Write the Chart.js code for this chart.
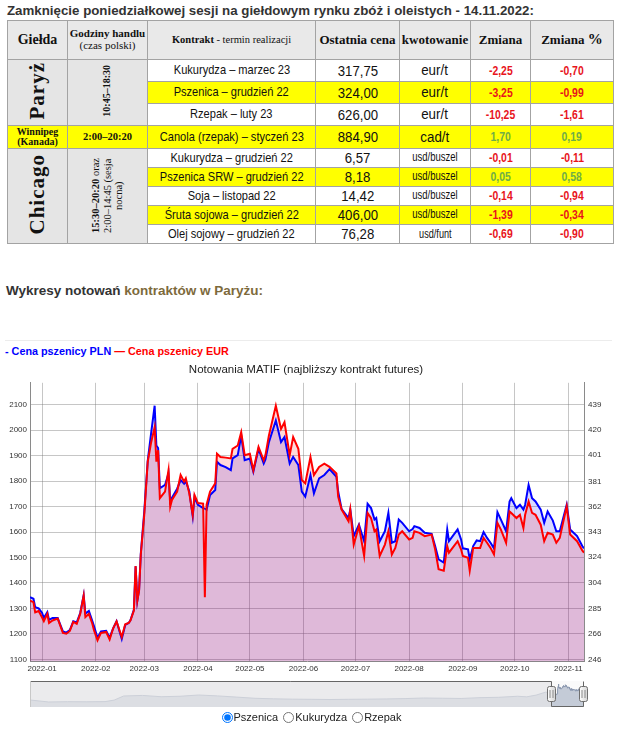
<!DOCTYPE html>
<html><head><meta charset="utf-8">
<script src="https://cdn.jsdelivr.net/npm/chart.js@4.4.1/dist/chart.umd.min.js"></script>
<style>
html,body{margin:0;padding:0;background:#fff;width:624px;height:735px;overflow:hidden;}
body{position:relative;font-family:"Liberation Sans",Arial,sans-serif;}
#hdr{position:absolute;left:7px;top:3px;font-size:13.3px;font-weight:bold;color:#333;white-space:nowrap;line-height:16px;}
table{position:absolute;left:7px;top:20px;border-collapse:collapse;table-layout:fixed;width:606px;}
td,th{border:1px solid #a3a3a3;padding:0;text-align:center;vertical-align:middle;overflow:hidden;white-space:nowrap;line-height:1.05;}
th{background:#e9e9e9;font-family:"Liberation Serif","Times New Roman",serif;font-weight:bold;color:#111;}
.gie{background:#e5e5e5;font-family:"Liberation Serif","Times New Roman",serif;font-weight:bold;color:#111;}
.hrs{font-family:"Liberation Serif","Times New Roman",serif;color:#111;background:#e5e5e5;}
.vt{writing-mode:vertical-rl;transform:rotate(180deg);display:inline-block;}
td span.s{display:inline-block;margin:0 -40px;transform-origin:50% 50%;}
.k{font-size:13.5px;color:#111;} .k span.s{transform:scaleX(.82);}
.p{font-size:15px;color:#111;} .p span.s{transform:scaleX(.88);}
.u{font-size:15.5px;color:#111;} .u span.s{transform:scaleX(.86);}
.u2{font-size:12.5px;color:#111;} .u2 span.s{transform:scaleX(.76);}
.c{font-size:13px;font-weight:bold;} .c span.s{transform:scaleX(.8);}
.r{color:#e8141c;} .g{color:#70ad47;}
.y td.k,.y td.p,.y td.u,.y td.u2,.y td.c{background:#ffff00;}
tr.all td{background:#ffff00;}
#wyk{position:absolute;left:6px;top:283px;font-size:13.5px;font-weight:bold;color:#333;white-space:nowrap;}
#wyk span{color:#7d6a3c;}
#sep{position:absolute;left:5px;top:340px;width:607px;height:1px;background:#ececec;}
#leg{position:absolute;left:5px;top:345px;font-size:10.8px;font-weight:bold;white-space:nowrap;}
#mainWrap{position:absolute;left:0;top:357px;width:612px;height:320px;}
#miniWrap{position:absolute;left:20px;top:674px;width:575px;height:38px;}
#radios{position:absolute;left:0;top:711px;width:620px;text-align:center;font-size:11px;color:#222;}
#radios label{margin:0 1px;}
#radios input{width:11px;height:11px;margin:0 1px 0 3px;vertical-align:-2px;}
</style></head>
<body>
<div id="hdr">Zamknięcie poniedziałkowej sesji na giełdowym rynku zbóż i oleistych - 14.11.2022:</div>
<table>
<colgroup><col style="width:60px"><col style="width:80px"><col style="width:168px"><col style="width:84px"><col style="width:71px"><col style="width:60px"><col style="width:83px"></colgroup>
<tr style="height:39px">
<th style="font-size:14px">Giełda</th>
<th style="font-size:11px">Godziny handlu<br><span style="font-weight:normal">(czas polski)</span></th>
<th style="font-size:10.5px">Kontrakt <span style="font-weight:normal">- termin realizacji</span></th>
<th style="font-size:13px">Ostatnia cena</th>
<th style="font-size:13px">kwotowanie</th>
<th style="font-size:13px">Zmiana</th>
<th style="font-size:13px">Zmiana <span style="font-size:15px">%</span></th>
</tr>
<tr style="height:22px">
<td rowspan="3" class="gie" style="font-size:21px;letter-spacing:1px"><div class="vt">Paryż</div></td>
<td rowspan="3" class="hrs" style="font-size:10px;font-weight:bold"><div class="vt">10:45–18:30</div></td>
<td class="k"><span class="s">Kukurydza – marzec 23</span></td><td class="p"><span class="s">317,75</span></td><td class="u"><span class="s">eur/t</span></td><td class="c r"><span class="s">-2,25</span></td><td class="c r"><span class="s">-0,70</span></td>
</tr>
<tr class="y" style="height:22px">
<td class="k"><span class="s">Pszenica – grudzień 22</span></td><td class="p"><span class="s">324,00</span></td><td class="u"><span class="s">eur/t</span></td><td class="c r"><span class="s">-3,25</span></td><td class="c r"><span class="s">-0,99</span></td>
</tr>
<tr style="height:22px">
<td class="k"><span class="s">Rzepak – luty 23</span></td><td class="p"><span class="s">626,00</span></td><td class="u"><span class="s">eur/t</span></td><td class="c r"><span class="s">-10,25</span></td><td class="c r"><span class="s">-1,61</span></td>
</tr>
<tr class="all" style="height:23px">
<td class="gie" style="font-size:10px">Winnipeg<br>(Kanada)</td>
<td class="hrs" style="font-size:10.5px;font-weight:bold">2:00–20:20</td>
<td class="k"><span class="s">Canola (rzepak) – styczeń 23</span></td><td class="p"><span class="s">884,90</span></td><td class="u"><span class="s">cad/t</span></td><td class="c g"><span class="s">1,70</span></td><td class="c g"><span class="s">0,19</span></td>
</tr>
<tr style="height:19px">
<td rowspan="5" class="gie" style="font-size:21px;letter-spacing:1px"><div class="vt">Chicago</div></td>
<td rowspan="5" class="hrs" style="font-size:10.5px"><div class="vt" style="text-align:center;line-height:1.1"><b>15:30–20:20</b> oraz<br>2:00–14:45 (sesja<br>nocna)</div></td>
<td class="k"><span class="s">Kukurydza – grudzień 22</span></td><td class="p"><span class="s">6,57</span></td><td class="u2"><span class="s">usd/buszel</span></td><td class="c r"><span class="s">-0,01</span></td><td class="c r"><span class="s">-0,11</span></td>
</tr>
<tr class="y" style="height:19px">
<td class="k"><span class="s">Pszenica SRW – grudzień 22</span></td><td class="p"><span class="s">8,18</span></td><td class="u2"><span class="s">usd/buszel</span></td><td class="c g"><span class="s">0,05</span></td><td class="c g"><span class="s">0,58</span></td>
</tr>
<tr style="height:19px">
<td class="k"><span class="s">Soja – listopad 22</span></td><td class="p"><span class="s">14,42</span></td><td class="u2"><span class="s">usd/buszel</span></td><td class="c r"><span class="s">-0,14</span></td><td class="c r"><span class="s">-0,94</span></td>
</tr>
<tr class="y" style="height:19px">
<td class="k"><span class="s">Śruta sojowa – grudzień 22</span></td><td class="p"><span class="s">406,00</span></td><td class="u2"><span class="s">usd/buszel</span></td><td class="c r"><span class="s">-1,39</span></td><td class="c r"><span class="s">-0,34</span></td>
</tr>
<tr style="height:19px">
<td class="k"><span class="s">Olej sojowy – grudzień 22</span></td><td class="p"><span class="s">76,28</span></td><td class="u2" style="font-size:12px"><span class="s">usd/funt</span></td><td class="c r"><span class="s">-0,69</span></td><td class="c r"><span class="s">-0,90</span></td>
</tr>
</table>
<div id="wyk">Wykresy notowań <span>kontraktów w Paryżu:</span></div>
<div id="sep"></div>
<div id="leg"></div>
<div id="mainWrap"><canvas id="main" width="612" height="320"></canvas></div>
<div id="miniWrap"><canvas id="mini" width="575" height="38"></canvas></div>
<div id="radios"><label><input type="radio" name="k" checked>Pszenica</label><label><input type="radio" name="k">Kukurydza</label><label><input type="radio" name="k">Rzepak</label></div>
<script>
// ---- data ----
const chartTitle = 'Notowania MATIF (najbliższy kontrakt futures)';
const seriesLabels = ['Cena pszenicy PLN', 'Cena pszenicy EUR'];
const dates = ['2021-12-25','2021-12-27','2021-12-28','2021-12-30','2022-01-01','2022-01-02','2022-01-04','2022-01-05','2022-01-07','2022-01-10',
'2022-01-13','2022-01-15','2022-01-17','2022-01-19','2022-01-21','2022-01-23','2022-01-25','2022-01-26','2022-01-28','2022-01-30',
'2022-01-31','2022-02-02','2022-02-04','2022-02-07','2022-02-09','2022-02-11','2022-02-13','2022-02-16','2022-02-18','2022-02-20',
'2022-02-21','2022-02-23','2022-02-24','2022-02-25','2022-02-26','2022-02-27','2022-03-01','2022-03-03','2022-03-05','2022-03-07',
'2022-03-08','2022-03-09','2022-03-10','2022-03-13','2022-03-15','2022-03-16','2022-03-17','2022-03-20','2022-03-22','2022-03-24',
'2022-03-25','2022-03-27','2022-03-29','2022-03-30','2022-04-01','2022-04-04','2022-04-05','2022-04-06','2022-04-08','2022-04-11',
'2022-04-12','2022-04-14','2022-04-17','2022-04-20','2022-04-21','2022-04-24','2022-04-26','2022-04-28','2022-05-01','2022-05-03',
'2022-05-06','2022-05-09','2022-05-10','2022-05-12','2022-05-16','2022-05-19','2022-05-21','2022-05-24','2022-05-26','2022-05-29',
'2022-05-31','2022-06-02','2022-06-05','2022-06-07','2022-06-10','2022-06-13','2022-06-16','2022-06-20','2022-06-21','2022-06-23',
'2022-06-27','2022-06-28','2022-06-30','2022-07-03','2022-07-06','2022-07-08','2022-07-10','2022-07-12','2022-07-13','2022-07-15',
'2022-07-18','2022-07-20','2022-07-22','2022-07-24','2022-07-26','2022-07-28','2022-08-01','2022-08-03','2022-08-04','2022-08-07',
'2022-08-10','2022-08-14','2022-08-16','2022-08-18','2022-08-21','2022-08-23','2022-08-24','2022-08-29','2022-08-31','2022-09-01',
'2022-09-04','2022-09-05','2022-09-07','2022-09-09','2022-09-11','2022-09-13','2022-09-15','2022-09-17','2022-09-19','2022-09-21',
'2022-09-23','2022-09-26','2022-09-28','2022-09-29','2022-10-02','2022-10-04','2022-10-06','2022-10-07','2022-10-09','2022-10-11',
'2022-10-13','2022-10-16','2022-10-18','2022-10-20','2022-10-23','2022-10-25','2022-10-27','2022-10-31','2022-11-02','2022-11-06',
'2022-11-09','2022-11-10'];
const plnValues = [1344,1338,1305,1300,1282,1262,1285,1255,1262,1262,
1210,1205,1215,1250,1245,1282,1352,1280,1290,1250,
1230,1185,1210,1212,1185,1222,1250,1180,1235,1243,
1253,1295,1465,1330,1372,1515,1680,1880,1990,2096,
1940,1930,1772,1785,1830,1720,1735,1770,1804,1790,
1800,1760,1662,1735,1707,1694,1692,1688,1745,1765,
1876,1863,1855,1843,1889,1902,1979,1882,1889,1837,
1927,1869,1885,1953,2038,1953,1973,1869,1895,1863,
1759,1739,1824,1752,1811,1824,1847,1817,1759,1690,
1655,1688,1584,1629,1564,1711,1694,1649,1655,1564,
1603,1675,1558,1564,1649,1636,1603,1612,1623,1616,
1597,1593,1545,1493,1480,1610,1564,1610,1571,1536,
1532,1493,1545,1567,1564,1600,1577,1558,1536,1678,
1649,1603,1720,1733,1694,1707,1688,1707,1785,1733,
1720,1688,1636,1681,1645,1603,1603,1707,1610,1584,
1545,1536];
const eurValues = [290.9,289.7,282.0,283.0,278.1,275.3,280.8,273.9,275.8,277.2,
266.4,265.8,267.9,274.7,273.3,280.8,294.6,278.3,280.8,273.3,
268.3,260.8,266.4,267.1,261.4,269.7,275.1,263.3,272.9,273.9,
275.8,283.4,317.1,290.9,298.4,325.8,355.9,396.1,410.9,422.3,
396.1,404.8,368.5,373.5,389.7,362.1,367.1,373.5,386.0,381.0,
383.5,372.1,355.9,371.0,364.8,364.4,293.4,363.5,373.5,379.7,
402.2,399.7,399.2,398.6,405.9,408.4,418.5,401.1,402.2,389.7,
407.3,397.2,401.1,416.0,438.5,421.0,426.0,401.1,414.8,405.9,
382.2,379.7,399.7,386.0,392.2,394.7,392.2,387.2,369.6,359.8,
350.9,359.8,333.3,347.2,324.7,357.3,353.4,343.4,344.7,324.7,
333.3,343.4,325.8,330.8,340.9,343.4,337.2,338.4,343.4,342.2,
339.7,340.9,329.7,314.6,313.5,332.2,327.2,335.9,329.7,324.7,
323.3,313.5,330.8,330.8,330.8,338.4,334.7,330.8,325.8,349.8,
344.7,334.7,358.4,357.3,353.4,355.9,345.9,355.9,366.0,357.3,
355.9,348.4,335.9,342.2,340.9,334.7,338.4,362.3,340.9,335.9,
328.9,327.2];
const leftTicks = [1100,1200,1300,1400,1500,1600,1700,1800,1900,2000,2100];
const rightTicks = [246,266,285,304,324,343,362,381,401,420,439];
const monthLabels = ['2022-01','2022-02','2022-03','2022-04','2022-05','2022-06','2022-07','2022-08','2022-09','2022-10','2022-11'];
// long history shown in the range selector (approximate, PLN)
const historyDates = ['2008-02','2008-08','2009-02','2009-08','2010-02','2010-05','2010-08','2011-02','2011-08','2012-02',
'2012-08','2013-02','2013-08','2014-02','2014-08','2015-02','2015-08','2016-02','2016-08','2017-02',
'2017-08','2018-02','2018-08','2019-02','2019-08','2020-02','2020-08','2021-02','2021-05','2021-08','2021-11'];
const historyValues = [729,560,583,575,590,720,1072,1120,1010,1050,
1157,1080,980,875,830,800,789,770,789,800,
820,850,900,880,860,930,960,1050,1000,1150,1400];

// ---- helpers ----
const base = Date.UTC(2022,0,1);
function dayOf(s){ const p = s.split('-').map(Number); return (Date.UTC(p[0], p[1]-1, p[2]||1) - base)/86400000; }
const xs = dates.map(dayOf);
const monthDays = monthLabels.map(dayOf);
const plnPts = xs.map((x,i)=>({x:x, y:plnValues[i]}));
const eurPts = xs.map((x,i)=>({x:x, y:eurValues[i]}));

document.getElementById('leg').innerHTML =
  '<span style="color:#0000ff">- ' + seriesLabels[0] + '</span> <span style="color:#ff0000">— ' + seriesLabels[1] + '</span>';

Chart.defaults.font.family = '"Liberation Sans", Arial, sans-serif';
const gridColor = 'rgba(120,120,120,0.42)';

new Chart(document.getElementById('main'), {
  type: 'line',
  data: { datasets: [
    { label: seriesLabels[1], data: eurPts, yAxisID: 'y2', borderColor: '#ff0000', backgroundColor: 'rgba(255,0,0,0.15)',
      borderWidth: 2, pointRadius: 0, fill: 'start', tension: 0, order: 1 },
    { label: seriesLabels[0], data: plnPts, yAxisID: 'y', borderColor: '#0000ff', backgroundColor: 'rgba(0,0,255,0.15)',
      borderWidth: 2, pointRadius: 0, fill: 'start', tension: 0, order: 2 }
  ]},
  options: {
    responsive: false, animation: false,
    layout: { padding: 0 },
    plugins: {
      legend: { display: false }, tooltip: { enabled: false },
      filler: { drawTime: 'beforeDatasetsDraw' },
      title: { display: true, text: chartTitle, color: '#222', font: { size: 11.5, weight: 'normal' }, padding: { top: 6, bottom: 6 } }
    },
    scales: {
      x: { type: 'linear', min: xs[0], max: xs[xs.length-1],
        afterBuildTicks: s => { s.ticks = monthDays.map(v => ({ value: v })); },
        ticks: { autoSkip: false, maxRotation: 0, padding: 3, color: '#333', font: { size: 8 }, callback: (v, i) => monthLabels[i] },
        grid: { color: gridColor, drawTicks: false }, border: { display: true, color: '#8a8a8a' } },
      y: { position: 'left', min: 1092, max: 2186,
        afterBuildTicks: s => { s.ticks = leftTicks.map(v => ({ value: v })); },
        afterFit: s => { s.width = 30; },
        ticks: { padding: 3, color: '#333', font: { size: 8 }, callback: v => String(v) },
        grid: { color: gridColor, drawTicks: false }, border: { display: true, color: '#8a8a8a' } },
      y2: { position: 'right', min: 244.8, max: 455.9,
        afterBuildTicks: s => { s.ticks = rightTicks.map(v => ({ value: v })); },
        afterFit: s => { s.width = 28; },
        ticks: { padding: 4, color: '#333', font: { size: 8 }, callback: v => String(v) },
        grid: { drawOnChartArea: false, drawTicks: false }, border: { display: true, color: '#8a8a8a' } }
    }
  }
});

// ---- range selector ----
function drawHandle(ctx, x, y){
  const w = 8, h = 15, r = 2, l = x - w/2, t = y - h/2;
  const g = ctx.createLinearGradient(l, 0, l + w, 0);
  g.addColorStop(0, '#ffffff'); g.addColorStop(1, '#d4d4d4');
  ctx.beginPath();
  ctx.moveTo(l + r, t); ctx.lineTo(l + w - r, t); ctx.quadraticCurveTo(l + w, t, l + w, t + r);
  ctx.lineTo(l + w, t + h - r); ctx.quadraticCurveTo(l + w, t + h, l + w - r, t + h);
  ctx.lineTo(l + r, t + h); ctx.quadraticCurveTo(l, t + h, l, t + h - r);
  ctx.lineTo(l, t + r); ctx.quadraticCurveTo(l, t, l + r, t); ctx.closePath();
  ctx.fillStyle = g; ctx.fill(); ctx.strokeStyle = '#6f6f6f'; ctx.lineWidth = 1; ctx.stroke();
  ctx.strokeStyle = '#8a8a8a';
  ctx.beginPath(); ctx.moveTo(x - 1.5, y - 4); ctx.lineTo(x - 1.5, y + 4); ctx.moveTo(x + 1.5, y - 4); ctx.lineTo(x + 1.5, y + 4); ctx.stroke();
}
const selectorPlugin = {
  id: 'selector',
  beforeDraw(c){ const a = c.chartArea, ctx = c.ctx; ctx.save(); ctx.fillStyle = '#fafafa'; ctx.fillRect(a.left, a.top, a.right - a.left, a.bottom - a.top); ctx.restore(); },
  afterDatasetsDraw(c){
    const a = c.chartArea, ctx = c.ctx, x = c.scales.x;
    const ws = Math.round(x.getPixelForValue(xs[0])) + 0.5, we = Math.round(x.getPixelForValue(xs[xs.length-1])) - 0.5;
    ctx.save();
    ctx.fillStyle = 'rgba(228,229,231,0.72)';
    ctx.fillRect(a.left, a.top, ws - a.left, a.bottom - a.top);
    ctx.strokeStyle = '#666'; ctx.lineWidth = 1;
    ctx.beginPath(); ctx.moveTo(a.left, a.top + 0.5); ctx.lineTo(ws, a.top + 0.5); ctx.lineTo(ws, a.bottom - 0.5);
    ctx.lineTo(we, a.bottom - 0.5); ctx.lineTo(we, a.top + 0.5); ctx.stroke();
    ctx.strokeStyle = '#c8c8c8'; ctx.beginPath(); ctx.moveTo(a.left + 0.5, a.top); ctx.lineTo(a.left + 0.5, a.bottom); ctx.stroke();
    const mid = (a.top + a.bottom) / 2;
    drawHandle(ctx, ws, mid); drawHandle(ctx, we, mid);
    ctx.restore();
  }
};
const miniPts = historyDates.map((d,i)=>({x: dayOf(d), y: historyValues[i]})).concat(plnPts);
new Chart(document.getElementById('mini'), {
  type: 'line',
  data: { datasets: [{ data: miniPts, borderColor: '#8c99b0', borderWidth: 1, backgroundColor: 'rgba(160,171,191,0.6)', pointRadius: 0, fill: 'start', tension: 0 }] },
  options: {
    responsive: false, animation: false,
    layout: { padding: { left: 10, right: 11, top: 7, bottom: 5 } },
    plugins: { legend: { display: false }, tooltip: { enabled: false }, title: { display: false } },
    scales: {
      x: { type: 'linear', display: false, min: dayOf(historyDates[0]), max: xs[xs.length-1] },
      y: { display: false, min: 129, max: 2357 }
    }
  },
  plugins: [selectorPlugin]
});
</script>
</body></html>
